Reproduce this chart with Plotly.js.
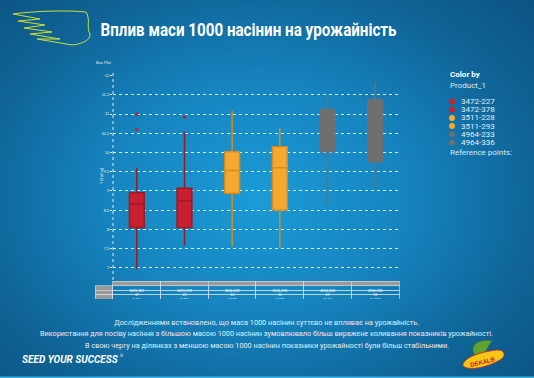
<!DOCTYPE html>
<html>
<head>
<meta charset="utf-8">
<script src="https://cdn.plot.ly/plotly-3.0.1.min.js"></script>
<style>
html,body{margin:0;padding:0;width:534px;height:378px;overflow:hidden;
background:radial-gradient(ellipse 70% 75% at 48% 52%, #1b9bd6 0%, #1684bf 40%, #0f6497 75%, #0c5483 100%);}
#chart{width:534px;height:378px;}
</style>
</head>
<body>
<div id="chart"></div>
<script>
// ---- data ----
const products = ['3472-227','3472-378','3511-228','3511-293','4964-233','4964-336'];
const q1 = [8.05, 8.05, 8.94, 8.50, 10.02, 9.76];
const median = [8.65, 8.74, 9.53, 9.60, 10.55, 10.60];
const q3 = [8.95, 9.07, 10.02, 10.15, 11.12, 11.37];
const lowerWhisker = [6.96, 7.57, 7.55, 7.52, 8.63, 9.07];
const upperWhisker = [9.60, 10.54, 11.08, 10.63, 11.48, 11.84];
const outlierProduct = ['3472-227','3472-227','3472-378'];
const outlierValue = [10.60, 11.00, 10.92];
const yTicks = [7, 7.5, 8, 8.5, 9, 9.5, 10, 10.5, 11, 11.5, 12];
const tableRows = ['Count','Median','Outliers'];
const countRow = ['17','20','16','15','19','18'];
const medianRow = ['8.654','8.736','9.537','9.598','10.55','10.597'];
const outlierRow = ['2','1','0','0','0','0'];
const colors = ['#c8202e','#c8202e','#f7a831','#f7a831','#6f6f70','#6f6f70'];
const lineColors = ['#9e1823','#9e1823','#d98c1c','#d98c1c','#6f6f70','#6f6f70'];

const W = 534, H = 378;
const px = x => x / W, py = y => 1 - y / H;
function pth(pts){ // pixel path -> paper path
  return pts.replace(/(-?\d+\.?\d*),(-?\d+\.?\d*)/g, (m,a,b)=> px(+a).toFixed(4)+','+py(+b).toFixed(4));
}

const traces = [];
products.forEach((p,i)=>{
  traces.push({
    type:'box', x:[p], q1:[q1[i]], median:[median[i]], q3:[q3[i]],
    lowerfence:[lowerWhisker[i]], upperfence:[upperWhisker[i]],
    fillcolor:colors[i], line:{color:lineColors[i], width:1.5},
    whiskerwidth:0, width:0.31, boxpoints:false, hoverinfo:'skip',
    showlegend:false, xaxis:'x', yaxis:'y'
  });
});
traces.push({
  type:'scatter', mode:'markers', x:outlierProduct, y:outlierValue,
  marker:{color:'#c8202e', size:3.5}, showlegend:false, hoverinfo:'skip'
});
// table
const hdrFill = ['rgba(0,0,0,0)'].concat(products.map(()=> '#9a9a9a'));
const cellFirst = ['#9a9a9a','#9a9a9a','#9a9a9a'];
traces.push({
  type:'table',
  domain:{x:[px(95), px(399)], y:[py(299), py(281)]},
  columnwidth:[18].concat(products.map(()=>47.67)),
  header:{values:[' '].concat(products), height:4.5,
    fill:{color:hdrFill}, line:{color:['rgba(0,0,0,0)'].concat(products.map(()=> '#d8e6ef')), width:0.6},
    font:{family:'Arial', size:3.5, color:'#ffffff'}, align:'center'},
  cells:{values:[tableRows, ...products.map((p,i)=>[countRow[i], medianRow[i], outlierRow[i]])],
    height:4.5,
    fill:{color:[cellFirst].concat(products.map(()=>['rgba(0,0,0,0)','rgba(0,0,0,0)','rgba(0,0,0,0)']))},
    line:{color:'#d8e6ef', width:0.6},
    font:{family:'Arial', size:3.5, color:'#ffffff'}, align:'center'}
});

const fam = 'Roboto, "Open Sans", sans-serif';

// fitW: target width (px) of the text in the reference, used to condense the glyphs
const annotations = [
  {text:'<b>Вплив маси 1000 насінин на урожайність</b>', x:px(249), y:py(29), xanchor:'center', fitW:296,
   font:{family:fam, size:18, color:'#ffffff'}},
  {text:'Box Plot', x:px(94), y:py(63), font:{family:'Arial', size:4, color:'#e8f0f6'}},
  {text:'Yld (t/ha)', x:px(101), y:py(176), textangle:-90, xanchor:'center',
   font:{family:'Arial', size:4, color:'#e8f0f6'}},
  {text:'<b>Color by</b>', x:px(448), y:py(75), font:{family:fam, size:8, color:'#ffffff'}},
  {text:'Product_1', x:px(448), y:py(86), font:{family:fam, size:8, color:'#dde8f0'}},
  {text:'Reference points:', x:px(448), y:py(152), font:{family:fam, size:8, color:'#dde8f0'}},
  {text:'Дослідженнями встановлено, що маса 1000 насінин суттєво не впливає на урожайність.', x:px(266.5), y:py(322), xanchor:'center', fitW:305,
   font:{family:fam, size:8, color:'#e4edf4'}},
  {text:'Використання для посіву насіння з більшою масою 1000 насінин зумовлювало більш виражене коливання показників урожайності.', x:px(266.5), y:py(333.5), xanchor:'center',
   font:{family:fam, size:8, color:'#e4edf4'}},
  {text:'В свою чергу на ділянках з меншою масою 1000 насінин показники урожайності були більш стабільними.', x:px(267), y:py(345), xanchor:'center', fitW:364,
   font:{family:fam, size:8, color:'#e4edf4'}},
  {text:'<b><i>SEED YOUR SUCCESS</i></b>', x:px(20), y:py(359),
   font:{family:fam, size:10, color:'#ffffff'}},
  {text:'®', x:px(118), y:py(355), font:{family:fam, size:4, color:'#ffffff'}},
  {text:'<b>DEKALB</b>', x:px(483), y:py(362), xanchor:'center', textangle:-14,
   font:{family:'Arial', size:6, color:'#c8202e'}}
];
const LONG_LINE = 7, LONG_LINE_W = 453;
products.forEach((p,i)=>{
  annotations.push({text:p, x:px(459), y:py(101.5 + i*8.2),
    font:{family:fam, size:8, color:'#e4edf4'}});
});
const fitWidths = annotations.map(a=>a.fitW);
annotations.forEach(a=>{ delete a.fitW; a.xref='paper'; a.yref='paper'; a.showarrow=false;
  if(!a.xanchor) a.xanchor='left'; if(!a.yanchor) a.yanchor='middle'; });

const shapes = [
  // left dotted axis
  {type:'line', xref:'paper', yref:'paper', x0:px(113), x1:px(113), y0:py(73), y1:py(281),
   line:{color:'rgba(255,255,255,0.85)', width:1, dash:'dot'}},
  // bottom light line
  {type:'rect', xref:'paper', yref:'paper', x0:0, x1:1, y0:0, y1:py(376.5), fillcolor:'#3db4e4', line:{width:0}},
  // wing logo
  {type:'path', xref:'paper', yref:'paper', line:{color:'#c8df3a', width:1},
   path:pth('M 13,14 C 35,11 65,10 86,12 C 91,20 86,27 90,34 C 91,40 82,44 72,45')},
  {type:'path', xref:'paper', yref:'paper', line:{color:'#c8df3a', width:1},
   path:pth('M 13,14 L 40,19 L 18,21 L 45,25 L 24,28 L 52,32 L 30,34 L 60,39 L 37,39 L 72,45')}
  ,
  // dekalb logo
  {type:'path', xref:'paper', yref:'paper', fillcolor:'#5ea331', line:{color:'#3d7a22', width:0.6},
   path:pth('M 474,354 C 470,345 478,339 492,341 C 488,346 486,352 482,356 Z')},
  {type:'path', xref:'paper', yref:'paper', fillcolor:'#f5c518', line:{color:'#c8202e', width:0.8},
   path:pth('M 463,366 C 462,358 480,352 496,350 C 506,349 506,357 500,360 C 490,366 470,372 463,366 Z')}
];
products.forEach((p,i)=>{
  shapes.push({type:'circle', xref:'paper', yref:'paper',
    x0:px(449), x1:px(455), y0:py(98.5+i*8.2), y1:py(104.5+i*8.2),
    fillcolor:colors[i], line:{width:0}});
});

const layout = {
  width:W, height:H, margin:{l:0,r:0,t:0,b:0},
  paper_bgcolor:'rgba(0,0,0,0)', plot_bgcolor:'rgba(0,0,0,0)',
  showlegend:false,
  xaxis:{domain:[px(113), px(399)], type:'category', categoryarray:products, categoryorder:'array',
    range:[-0.5, 5.5], showticklabels:false, showgrid:false, zeroline:false, showline:false, ticks:''},
  yaxis:{domain:[py(280), py(74.9)], range:[6.68, 12.02], tickvals:yTicks,
    ticktext:yTicks.map(String), showgrid:true, gridcolor:'rgba(255,255,255,0.85)', gridwidth:1,
    griddash:'3px,3px', zeroline:false, showline:false, ticks:'outside', ticklen:2, tickcolor:'#e8f0f6',
    tickfont:{family:'Arial', size:4, color:'#e8f0f6'}},
  annotations:annotations, shapes:shapes
};
function annText(gd, idx){
  const g = gd.querySelector('.annotation[data-index="'+idx+'"]');
  return g ? g.querySelector('text.annotation-text') : null;
}
function applyFit(gd){
  fitWidths.forEach((w, idx)=>{
    if(!w) return;
    const t = annText(gd, idx);
    if(!t) return;
    t.setAttribute('textLength', w);
    t.setAttribute('lengthAdjust', 'spacingAndGlyphs');
  });
}
Plotly.newPlot('chart', traces, layout, {displayModeBar:false, staticPlot:true}).then(gd=>{
  // size the long bottom line so its natural width matches the reference
  const t = annText(gd, LONG_LINE);
  const nat = t ? t.getComputedTextLength() : 0;
  if(nat > 0){
    const s = +(8 * LONG_LINE_W / nat).toFixed(2);
    const upd = {};
    [6, 7, 8].forEach(i=> upd['annotations['+i+'].font.size'] = s);
    return Plotly.relayout(gd, upd).then(()=> applyFit(gd));
  }
  applyFit(gd);
});
</script>
</body>
</html>
